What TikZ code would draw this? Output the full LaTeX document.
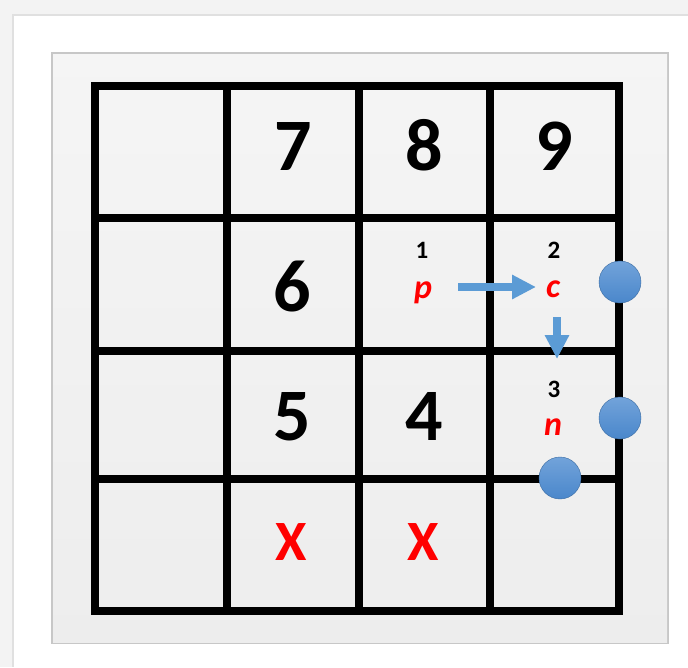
\documentclass[tikz,border=0pt]{standalone}
\usepackage{fontspec}
\setmainfont{Carlito}
\usetikzlibrary{arrows.meta,shadings}
\definecolor{bgout}{HTML}{F3F3F3}
\definecolor{arrowblue}{HTML}{5B9BD5}
\definecolor{dotTop}{HTML}{72A3DA}
\definecolor{dotBot}{HTML}{4A87CB}
\definecolor{xred}{HTML}{FF0000}
\tikzset{
  gridline/.style={line width=8pt,black},
  bignum/.style={anchor=base,font=\fontsize{74}{74}\selectfont\bfseries,text=black,inner sep=0pt},
  smallnum/.style={anchor=base,font=\fontsize{25}{25}\selectfont\bfseries,text=black,inner sep=0pt},
  letter/.style={anchor=base,font=\fontsize{34}{34}\selectfont\bfseries\itshape,text=xred,inner sep=0pt},
  xmark/.style={anchor=base,font=\fontsize{57}{57}\selectfont\bfseries,text=xred,inner sep=0pt},
  bluearrow/.style={line width=7.5pt,arrowblue,-{Triangle[length=24pt,width=23pt]}},
  dot/.style={circle,minimum size=42pt,inner sep=0pt,top color=dotTop,bottom color=dotBot,draw=dotBot!80!black,line width=0.4pt}
}
\begin{document}
\begin{tikzpicture}[x=1pt,y=-1pt]
\useasboundingbox (0,0) rectangle (688,667);
% outer background and card
\fill[bgout] (0,0) rectangle (688,667);
\fill[black!12] (12,14) rectangle (688,667);
\fill[white] (14,16) rectangle (688,667);
% inner panel
\fill[black!22] (51,52) rectangle (669,644);
\shade[top color=black!4,bottom color=black!7] (53,54) rectangle (667,642);
% grid
\draw[gridline] (95,86) rectangle (619,611);
\foreach \xx in {227,359,490} \draw[gridline] (\xx,86) -- (\xx,611);
\foreach \yy in {218,351,479} \draw[gridline] (95,\yy) -- (619,\yy);
% big numbers
\node[bignum] (n7) at (293,170) {7};
\node[bignum] (n8) at (424,170) {8};
\node[bignum] (n9) at (554,170) {9};
\node[bignum] (n6) at (292,311) {6};
\node[bignum] (n5) at (292,440) {5};
\node[bignum] (n4) at (424,440) {4};
\node[xmark] (x1) at (291,560) {X};
\node[xmark] (x2) at (423,560) {X};
% small labels
\node[smallnum] (s1) at (422,258) {1};
\node[smallnum] (s2) at (554,258) {2};
\node[smallnum] (s3) at (554,397) {3};
\node[letter] (lp) at (423,298) {p};
\node[letter] (lc) at (553,297) {c};
\node[letter] (ln) at (553,435) {n};
% arrows
\coordinate (a1s) at (458,287);
\coordinate (a1e) at (536,287);
\coordinate (a2s) at (557,317);
\coordinate (a2e) at (557,359);
\draw[bluearrow] (a1s) -- (a1e);
\draw[bluearrow] (a2s) -- (a2e);
% dots
\node[dot] (d1) at (620,282) {};
\node[dot] (d2) at (620,418) {};
\node[dot] (d3) at (560,478) {};
\end{tikzpicture}
\end{document}
